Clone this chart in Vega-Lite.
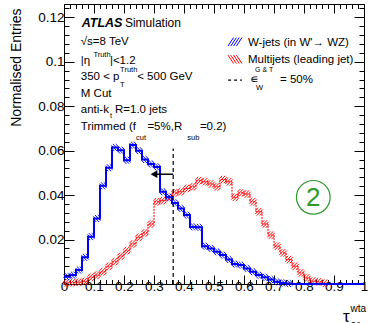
{
  "$schema": "https://vega.github.io/schema/vega-lite/v6.json",
  "width": 300,
  "height": 280,
  "autosize": {"type": "none"},
  "padding": {"left": 64, "top": 4, "right": 4, "bottom": 39},
  "config": {
    "font": "Liberation Sans",
    "view": {"stroke": "black", "strokeWidth": 1},
    "axis": {"grid": false, "domain": false, "tickColor": "black", "tickWidth": 1, "labelColor": "black", "labelFont": "Liberation Sans", "labelFontSize": 13.5, "titleColor": "black", "titleFont": "Liberation Sans", "labelOverlap": false, "labelFlush": false},
    "text": {"font": "Liberation Sans", "color": "black"}
  },
  "data": {"values": [
    {"x": 0.00, "w": 0.0033, "m": 0.0005},
    {"x": 0.02, "w": 0.0040, "m": 0.0006},
    {"x": 0.04, "w": 0.0063, "m": 0.0008},
    {"x": 0.06, "w": 0.0120, "m": 0.0012},
    {"x": 0.08, "w": 0.0213, "m": 0.0030},
    {"x": 0.10, "w": 0.0295, "m": 0.0040},
    {"x": 0.12, "w": 0.0442, "m": 0.0055},
    {"x": 0.14, "w": 0.0523, "m": 0.0080},
    {"x": 0.16, "w": 0.0614, "m": 0.0100},
    {"x": 0.18, "w": 0.0602, "m": 0.0125},
    {"x": 0.20, "w": 0.0557, "m": 0.0150},
    {"x": 0.22, "w": 0.0625, "m": 0.0180},
    {"x": 0.24, "w": 0.0600, "m": 0.0210},
    {"x": 0.26, "w": 0.0560, "m": 0.0230},
    {"x": 0.28, "w": 0.0540, "m": 0.0270},
    {"x": 0.30, "w": 0.0527, "m": 0.0370},
    {"x": 0.32, "w": 0.0415, "m": 0.0375},
    {"x": 0.34, "w": 0.0390, "m": 0.0390},
    {"x": 0.36, "w": 0.0365, "m": 0.0410},
    {"x": 0.38, "w": 0.0340, "m": 0.0415},
    {"x": 0.40, "w": 0.0310, "m": 0.0430},
    {"x": 0.42, "w": 0.0257, "m": 0.0437},
    {"x": 0.44, "w": 0.0255, "m": 0.0465},
    {"x": 0.46, "w": 0.0170, "m": 0.0460},
    {"x": 0.48, "w": 0.0160, "m": 0.0450},
    {"x": 0.50, "w": 0.0145, "m": 0.0437},
    {"x": 0.52, "w": 0.0130, "m": 0.0470},
    {"x": 0.54, "w": 0.0110, "m": 0.0460},
    {"x": 0.56, "w": 0.0090, "m": 0.0390},
    {"x": 0.58, "w": 0.0085, "m": 0.0410},
    {"x": 0.60, "w": 0.0070, "m": 0.0405},
    {"x": 0.62, "w": 0.0055, "m": 0.0370},
    {"x": 0.64, "w": 0.0040, "m": 0.0325},
    {"x": 0.66, "w": 0.0030, "m": 0.0270},
    {"x": 0.68, "w": 0.0020, "m": 0.0220},
    {"x": 0.70, "w": 0.0010, "m": 0.0170},
    {"x": 0.72, "w": 0.0005, "m": 0.0140},
    {"x": 0.74, "w": 0.0002, "m": 0.0110},
    {"x": 0.76, "w": 0.0, "m": 0.0080},
    {"x": 0.78, "w": 0.0, "m": 0.0050},
    {"x": 0.80, "w": 0.0, "m": 0.0027},
    {"x": 0.82, "w": 0.0, "m": 0.0013},
    {"x": 0.84, "w": 0.0, "m": 0.0010},
    {"x": 0.86, "w": 0.0, "m": 0.0003},
    {"x": 0.88, "w": 0.0, "m": 0.0},
    {"x": 0.90, "w": 0.0, "m": 0.0},
    {"x": 0.92, "w": 0.0, "m": 0.0},
    {"x": 0.94, "w": 0.0, "m": 0.0},
    {"x": 0.96, "w": 0.0, "m": 0.0},
    {"x": 0.98, "w": 0.0, "m": 0.0},
    {"x": 1.00, "w": 0.0, "m": 0.0}
  ]},
  "resolve": {"axis": {"x": "independent", "y": "independent"}},
  "layer": [
    {
      "transform": [{"filter": "datum.m > 0 && datum.x < 1"}],
      "mark": {"type": "point", "shape": "M-1,-0.2L-0.2,-1M-1,0.6L0.6,-1M-0.6,1L1,-0.6M0.2,1L1,0.2", "size": 56, "filled": false, "stroke": "#ff0000", "strokeWidth": 1, "opacity": 1, "xOffset": 3},
      "encoding": {
        "x": {"field": "x", "type": "quantitative", "scale": {"domain": [0, 1], "nice": false, "zero": false},
          "axis": {"orient": "top", "title": null, "labels": false,
            "values": [0,0.02,0.04,0.06,0.08,0.1,0.12,0.14,0.16,0.18,0.2,0.22,0.24,0.26,0.28,0.3,0.32,0.34,0.36,0.38,0.4,0.42,0.44,0.46,0.48,0.5,0.52,0.54,0.56,0.58,0.6,0.62,0.64,0.66,0.68,0.7,0.72,0.74,0.76,0.78,0.8,0.82,0.84,0.86,0.88,0.9,0.92,0.94,0.96,0.98,1],
            "tickSize": {"condition": {"test": "round(datum.value*50) % 5 == 0", "value": -9}, "value": -4.5}}},
        "y": {"field": "m", "type": "quantitative", "scale": {"domain": [0, 0.126], "nice": false},
          "axis": {"orient": "right", "title": null, "labels": false,
            "values": [0,0.004,0.008,0.012,0.016,0.02,0.024,0.028,0.032,0.036,0.04,0.044,0.048,0.052,0.056,0.06,0.064,0.068,0.072,0.076,0.08,0.084,0.088,0.092,0.096,0.1,0.104,0.108,0.112,0.116,0.12,0.124],
            "tickSize": {"condition": {"test": "round(datum.value*250) % 5 == 0", "value": -10}, "value": -5}}}
      }
    },
    {
      "mark": {"type": "line", "interpolate": "step-after", "stroke": "#ff0000", "strokeWidth": 1, "strokeDash": [2, 1]},
      "encoding": {
        "x": {"field": "x", "type": "quantitative", "axis": null},
        "y": {"field": "m", "type": "quantitative", "axis": null}
      }
    },
    {
      "transform": [{"filter": "datum.w > 0 && datum.x < 1"}],
      "mark": {"type": "point", "shape": "M-1,0.2L-0.2,1M-1,-0.6L0.6,1M-0.6,-1L1,0.6M0.2,-1L1,-0.2", "size": 49, "filled": false, "stroke": "#0000ff", "strokeWidth": 1, "opacity": 1, "xOffset": 3},
      "encoding": {
        "x": {"field": "x", "type": "quantitative", "axis": null},
        "y": {"field": "w", "type": "quantitative", "axis": null}
      }
    },
    {
      "mark": {"type": "line", "interpolate": "step-after", "stroke": "#0000ff", "strokeWidth": 2},
      "encoding": {
        "x": {"field": "x", "type": "quantitative",
          "axis": {"orient": "bottom", "title": null, "labelPadding": 4,
            "values": [0,0.02,0.04,0.06,0.08,0.1,0.12,0.14,0.16,0.18,0.2,0.22,0.24,0.26,0.28,0.3,0.32,0.34,0.36,0.38,0.4,0.42,0.44,0.46,0.48,0.5,0.52,0.54,0.56,0.58,0.6,0.62,0.64,0.66,0.68,0.7,0.72,0.74,0.76,0.78,0.8,0.82,0.84,0.86,0.88,0.9,0.92,0.94,0.96,0.98,1],
            "labelExpr": "round(datum.value*50) % 5 == 0 ? format(datum.value, '~g') : ''",
            "tickSize": {"condition": {"test": "round(datum.value*50) % 5 == 0", "value": -9}, "value": -4.5}}},
        "y": {"field": "w", "type": "quantitative",
          "axis": {"orient": "left", "labelPadding": 10,
            "values": [0,0.004,0.008,0.012,0.016,0.02,0.024,0.028,0.032,0.036,0.04,0.044,0.048,0.052,0.056,0.06,0.064,0.068,0.072,0.076,0.08,0.084,0.088,0.092,0.096,0.1,0.104,0.108,0.112,0.116,0.12,0.124],
            "labelExpr": "round(datum.value*250) % 5 == 0 && datum.value > 0 ? format(datum.value, '~g') : ''",
            "tickSize": {"condition": {"test": "round(datum.value*250) % 5 == 0", "value": -10}, "value": -5},
            "title": "Normalised Entries", "titleFontSize": 14, "titleFontWeight": "normal", "titleAngle": -90, "titleAlign": "right", "titleBaseline": "middle", "titleX": -48, "titleY": 4}}
      }
    },
    {
      "data": {"values": [{}]},
      "mark": {"type": "rule", "stroke": "black", "strokeWidth": 1.2, "strokeDash": [4, 3]},
      "encoding": {"x": {"datum": 0.364, "type": "quantitative", "axis": null}, "y": {"datum": 0, "type": "quantitative", "axis": null}, "y2": {"datum": 0.061}}
    },
    {
      "data": {"values": [{}]},
      "mark": {"type": "rule", "stroke": "black", "strokeWidth": 1.5},
      "encoding": {"x": {"datum": 0.364, "type": "quantitative", "axis": null}, "x2": {"datum": 0.305}, "y": {"datum": 0.0494, "type": "quantitative", "axis": null}}
    },
    {
      "data": {"values": [{}]},
      "mark": {"type": "point", "shape": "triangle-left", "filled": true, "fill": "black", "stroke": null, "size": 60, "opacity": 1},
      "encoding": {"x": {"datum": 0.300, "type": "quantitative", "axis": null}, "y": {"datum": 0.0494, "type": "quantitative", "axis": null}}
    },
    {
      "data": {"values": [{}]},
      "mark": {"type": "point", "shape": "circle", "filled": false, "stroke": "#2e9a2e", "strokeWidth": 1.2, "size": 1134, "opacity": 1},
      "encoding": {"x": {"datum": 0.831, "type": "quantitative", "axis": null}, "y": {"datum": 0.039, "type": "quantitative", "axis": null}}
    },
    {
      "data": {"values": [{}]},
      "mark": {"type": "text", "text": "2", "fontSize": 26, "align": "center", "baseline": "middle", "color": "#2e9a2e", "dy": 1},
      "encoding": {"x": {"datum": 0.831, "type": "quantitative", "axis": null}, "y": {"datum": 0.039, "type": "quantitative", "axis": null}}
    },
    {
      "data": {"values": [{}]},
      "mark": {"type": "text", "text": "ATLAS", "fontSize": 12.5, "fontWeight": "bold", "fontStyle": "italic", "align": "left", "baseline": "alphabetic"},
      "encoding": {"x": {"datum": 0.059, "type": "quantitative", "axis": null}, "y": {"datum": 0.1157, "type": "quantitative", "axis": null}}
    },
    {
      "data": {"values": [{}]},
      "mark": {"type": "text", "text": "Simulation", "fontSize": 12, "align": "left", "baseline": "alphabetic"},
      "encoding": {"x": {"datum": 0.203, "type": "quantitative", "axis": null}, "y": {"datum": 0.1157, "type": "quantitative", "axis": null}}
    },
    {
      "data": {"values": [{}]},
      "mark": {"type": "text", "text": "√s=8 TeV", "fontSize": 11.5, "align": "left", "baseline": "alphabetic"},
      "encoding": {"x": {"datum": 0.056, "type": "quantitative", "axis": null}, "y": {"datum": 0.1074, "type": "quantitative", "axis": null}}
    },
    {
      "data": {"values": [{}]},
      "mark": {"type": "text", "text": "|η", "fontSize": 11.5, "align": "left", "baseline": "alphabetic"},
      "encoding": {"x": {"datum": 0.056, "type": "quantitative", "axis": null}, "y": {"datum": 0.0991, "type": "quantitative", "axis": null}}
    },
    {
      "data": {"values": [{}]},
      "mark": {"type": "text", "text": "Truth", "fontSize": 7.5, "align": "left", "baseline": "alphabetic"},
      "encoding": {"x": {"datum": 0.098, "type": "quantitative", "axis": null}, "y": {"datum": 0.102, "type": "quantitative", "axis": null}}
    },
    {
      "data": {"values": [{}]},
      "mark": {"type": "text", "text": "|<1.2", "fontSize": 11.5, "align": "left", "baseline": "alphabetic"},
      "encoding": {"x": {"datum": 0.153, "type": "quantitative", "axis": null}, "y": {"datum": 0.0991, "type": "quantitative", "axis": null}}
    },
    {
      "data": {"values": [{}]},
      "mark": {"type": "text", "text": "350 < p", "fontSize": 11.5, "align": "left", "baseline": "alphabetic"},
      "encoding": {"x": {"datum": 0.056, "type": "quantitative", "axis": null}, "y": {"datum": 0.092, "type": "quantitative", "axis": null}}
    },
    {
      "data": {"values": [{}]},
      "mark": {"type": "text", "text": "T", "fontSize": 7.5, "align": "left", "baseline": "alphabetic"},
      "encoding": {"x": {"datum": 0.187, "type": "quantitative", "axis": null}, "y": {"datum": 0.0885, "type": "quantitative", "axis": null}}
    },
    {
      "data": {"values": [{}]},
      "mark": {"type": "text", "text": "Truth", "fontSize": 7.5, "align": "left", "baseline": "alphabetic"},
      "encoding": {"x": {"datum": 0.187, "type": "quantitative", "axis": null}, "y": {"datum": 0.0954, "type": "quantitative", "axis": null}}
    },
    {
      "data": {"values": [{}]},
      "mark": {"type": "text", "text": "< 500 GeV", "fontSize": 11.5, "align": "left", "baseline": "alphabetic"},
      "encoding": {"x": {"datum": 0.244, "type": "quantitative", "axis": null}, "y": {"datum": 0.092, "type": "quantitative", "axis": null}}
    },
    {
      "data": {"values": [{}]},
      "mark": {"type": "text", "text": "M Cut", "fontSize": 11.5, "align": "left", "baseline": "alphabetic"},
      "encoding": {"x": {"datum": 0.056, "type": "quantitative", "axis": null}, "y": {"datum": 0.0842, "type": "quantitative", "axis": null}}
    },
    {
      "data": {"values": [{}]},
      "mark": {"type": "text", "text": "anti-k", "fontSize": 11.5, "align": "left", "baseline": "alphabetic"},
      "encoding": {"x": {"datum": 0.056, "type": "quantitative", "axis": null}, "y": {"datum": 0.077, "type": "quantitative", "axis": null}}
    },
    {
      "data": {"values": [{}]},
      "mark": {"type": "text", "text": "t", "fontSize": 7.5, "align": "left", "baseline": "alphabetic"},
      "encoding": {"x": {"datum": 0.153, "type": "quantitative", "axis": null}, "y": {"datum": 0.0746, "type": "quantitative", "axis": null}}
    },
    {
      "data": {"values": [{}]},
      "mark": {"type": "text", "text": "R=1.0 jets", "fontSize": 11.5, "align": "left", "baseline": "alphabetic"},
      "encoding": {"x": {"datum": 0.17, "type": "quantitative", "axis": null}, "y": {"datum": 0.077, "type": "quantitative", "axis": null}}
    },
    {
      "data": {"values": [{}]},
      "mark": {"type": "text", "text": "Trimmed (f", "fontSize": 11.5, "align": "left", "baseline": "alphabetic"},
      "encoding": {"x": {"datum": 0.056, "type": "quantitative", "axis": null}, "y": {"datum": 0.0692, "type": "quantitative", "axis": null}}
    },
    {
      "data": {"values": [{}]},
      "mark": {"type": "text", "text": "cut", "fontSize": 7.5, "align": "left", "baseline": "alphabetic"},
      "encoding": {"x": {"datum": 0.24, "type": "quantitative", "axis": null}, "y": {"datum": 0.065, "type": "quantitative", "axis": null}}
    },
    {
      "data": {"values": [{}]},
      "mark": {"type": "text", "text": "=5%,R", "fontSize": 11.5, "align": "left", "baseline": "alphabetic"},
      "encoding": {"x": {"datum": 0.278, "type": "quantitative", "axis": null}, "y": {"datum": 0.0692, "type": "quantitative", "axis": null}}
    },
    {
      "data": {"values": [{}]},
      "mark": {"type": "text", "text": "sub", "fontSize": 7.5, "align": "left", "baseline": "alphabetic"},
      "encoding": {"x": {"datum": 0.411, "type": "quantitative", "axis": null}, "y": {"datum": 0.065, "type": "quantitative", "axis": null}}
    },
    {
      "data": {"values": [{}]},
      "mark": {"type": "text", "text": "=0.2)", "fontSize": 11.5, "align": "left", "baseline": "alphabetic"},
      "encoding": {"x": {"datum": 0.453, "type": "quantitative", "axis": null}, "y": {"datum": 0.0692, "type": "quantitative", "axis": null}}
    },
    {
      "data": {"values": [{}]},
      "mark": {"type": "point", "shape": "M-1,0.6L-0.2,-0.6M-0.6,0.6L0.2,-0.6M-0.2,0.6L0.6,-0.6M0.2,0.6L1,-0.6", "size": 196, "filled": false, "stroke": "#0000ff", "strokeWidth": 1, "opacity": 1},
      "encoding": {"x": {"datum": 0.57, "type": "quantitative", "axis": null}, "y": {"datum": 0.109, "type": "quantitative", "axis": null}}
    },
    {
      "data": {"values": [{}]},
      "mark": {"type": "text", "text": "W-jets (in W'→ WZ)", "fontSize": 11.5, "align": "left", "baseline": "alphabetic"},
      "encoding": {"x": {"datum": 0.613, "type": "quantitative", "axis": null}, "y": {"datum": 0.107, "type": "quantitative", "axis": null}}
    },
    {
      "data": {"values": [{}]},
      "mark": {"type": "point", "shape": "M-1,-0.6L-0.2,0.6M-0.6,-0.6L0.2,0.6M-0.2,-0.6L0.6,0.6M0.2,-0.6L1,0.6", "size": 196, "filled": false, "stroke": "#ff0000", "strokeWidth": 1, "opacity": 1},
      "encoding": {"x": {"datum": 0.57, "type": "quantitative", "axis": null}, "y": {"datum": 0.1011, "type": "quantitative", "axis": null}}
    },
    {
      "data": {"values": [{}]},
      "mark": {"type": "text", "text": "Multijets (leading jet)", "fontSize": 11.5, "align": "left", "baseline": "alphabetic"},
      "encoding": {"x": {"datum": 0.613, "type": "quantitative", "axis": null}, "y": {"datum": 0.0995, "type": "quantitative", "axis": null}}
    },
    {
      "data": {"values": [{}]},
      "mark": {"type": "rule", "stroke": "black", "strokeWidth": 1.2, "strokeDash": [3, 3]},
      "encoding": {"x": {"datum": 0.547, "type": "quantitative", "axis": null}, "x2": {"datum": 0.593}, "y": {"datum": 0.0917, "type": "quantitative", "axis": null}}
    },
    {
      "data": {"values": [{}]},
      "mark": {"type": "text", "text": "∊", "fontSize": 11.5, "align": "left", "baseline": "alphabetic"},
      "encoding": {"x": {"datum": 0.62, "type": "quantitative", "axis": null}, "y": {"datum": 0.0905, "type": "quantitative", "axis": null}}
    },
    {
      "data": {"values": [{}]},
      "mark": {"type": "text", "text": "G & T", "fontSize": 7, "align": "left", "baseline": "alphabetic"},
      "encoding": {"x": {"datum": 0.637, "type": "quantitative", "axis": null}, "y": {"datum": 0.0955, "type": "quantitative", "axis": null}}
    },
    {
      "data": {"values": [{}]},
      "mark": {"type": "text", "text": "W", "fontSize": 7.5, "align": "left", "baseline": "alphabetic"},
      "encoding": {"x": {"datum": 0.64, "type": "quantitative", "axis": null}, "y": {"datum": 0.0875, "type": "quantitative", "axis": null}}
    },
    {
      "data": {"values": [{}]},
      "mark": {"type": "text", "text": "= 50%", "fontSize": 11.5, "align": "left", "baseline": "alphabetic"},
      "encoding": {"x": {"datum": 0.72, "type": "quantitative", "axis": null}, "y": {"datum": 0.0905, "type": "quantitative", "axis": null}}
    },
    {
      "data": {"values": [{}]},
      "mark": {"type": "text", "text": "τ", "fontSize": 17, "align": "left", "baseline": "alphabetic"},
      "encoding": {"x": {"datum": 0.93, "type": "quantitative", "axis": null}, "y": {"datum": -0.0171, "type": "quantitative", "axis": null}}
    },
    {
      "data": {"values": [{}]},
      "mark": {"type": "text", "text": "wta", "fontSize": 10, "align": "left", "baseline": "alphabetic"},
      "encoding": {"x": {"datum": 0.955, "type": "quantitative", "axis": null}, "y": {"datum": -0.0125, "type": "quantitative", "axis": null}}
    },
    {
      "data": {"values": [{}]},
      "mark": {"type": "text", "text": "21", "fontSize": 10, "align": "left", "baseline": "alphabetic"},
      "encoding": {"x": {"datum": 0.955, "type": "quantitative", "axis": null}, "y": {"datum": -0.0205, "type": "quantitative", "axis": null}}
    }
  ]
}
